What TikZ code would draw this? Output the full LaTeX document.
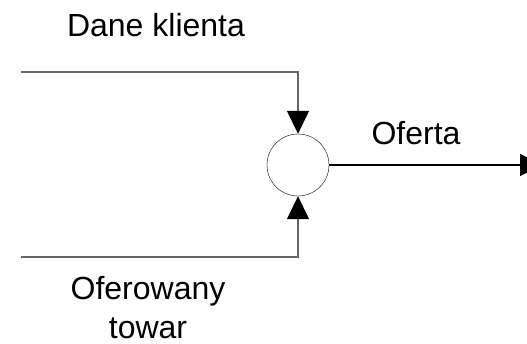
\documentclass[tikz,border=0pt]{standalone}
\usepackage{fontspec}
\setmainfont{Liberation Sans}
\usetikzlibrary{arrows.meta}

\begin{document}
\begin{tikzpicture}[x=1pt, y=-1pt]
    \useasboundingbox (0,0) rectangle (527,343);
    \tikzset{
        flow/.style = {line width = 1.4pt, draw = black!60},
        tip/.style = {-{Triangle[length = 23pt, width = 22pt, color = black]}},
        lbl/.style = {anchor = base, inner sep = 0pt, font = \fontsize{32}{39}\selectfont}
    }
    \node [shape = circle, draw, minimum size = 62pt, inner sep = 0pt] (c) at (298,165) {};
    \coordinate (a) at (21,72);
    \coordinate (b) at (21,257);
    \coordinate (out) at (543,165);
    \node [lbl] (D) at (156,36) {Dane klienta};
    \node [lbl, align = center] (T) at (148,338) {Oferowany\\towar};
    \node [lbl] (O) at (416,144) {Oferta};

    \draw [flow, tip] (a) -- (298,72) -- (c.north);
    \draw [flow, tip] (b) -- (298,257) -- (c.south);
    \draw [line width = 1.2pt, tip] (c.east) -- (out);
\end{tikzpicture}
\end{document}
